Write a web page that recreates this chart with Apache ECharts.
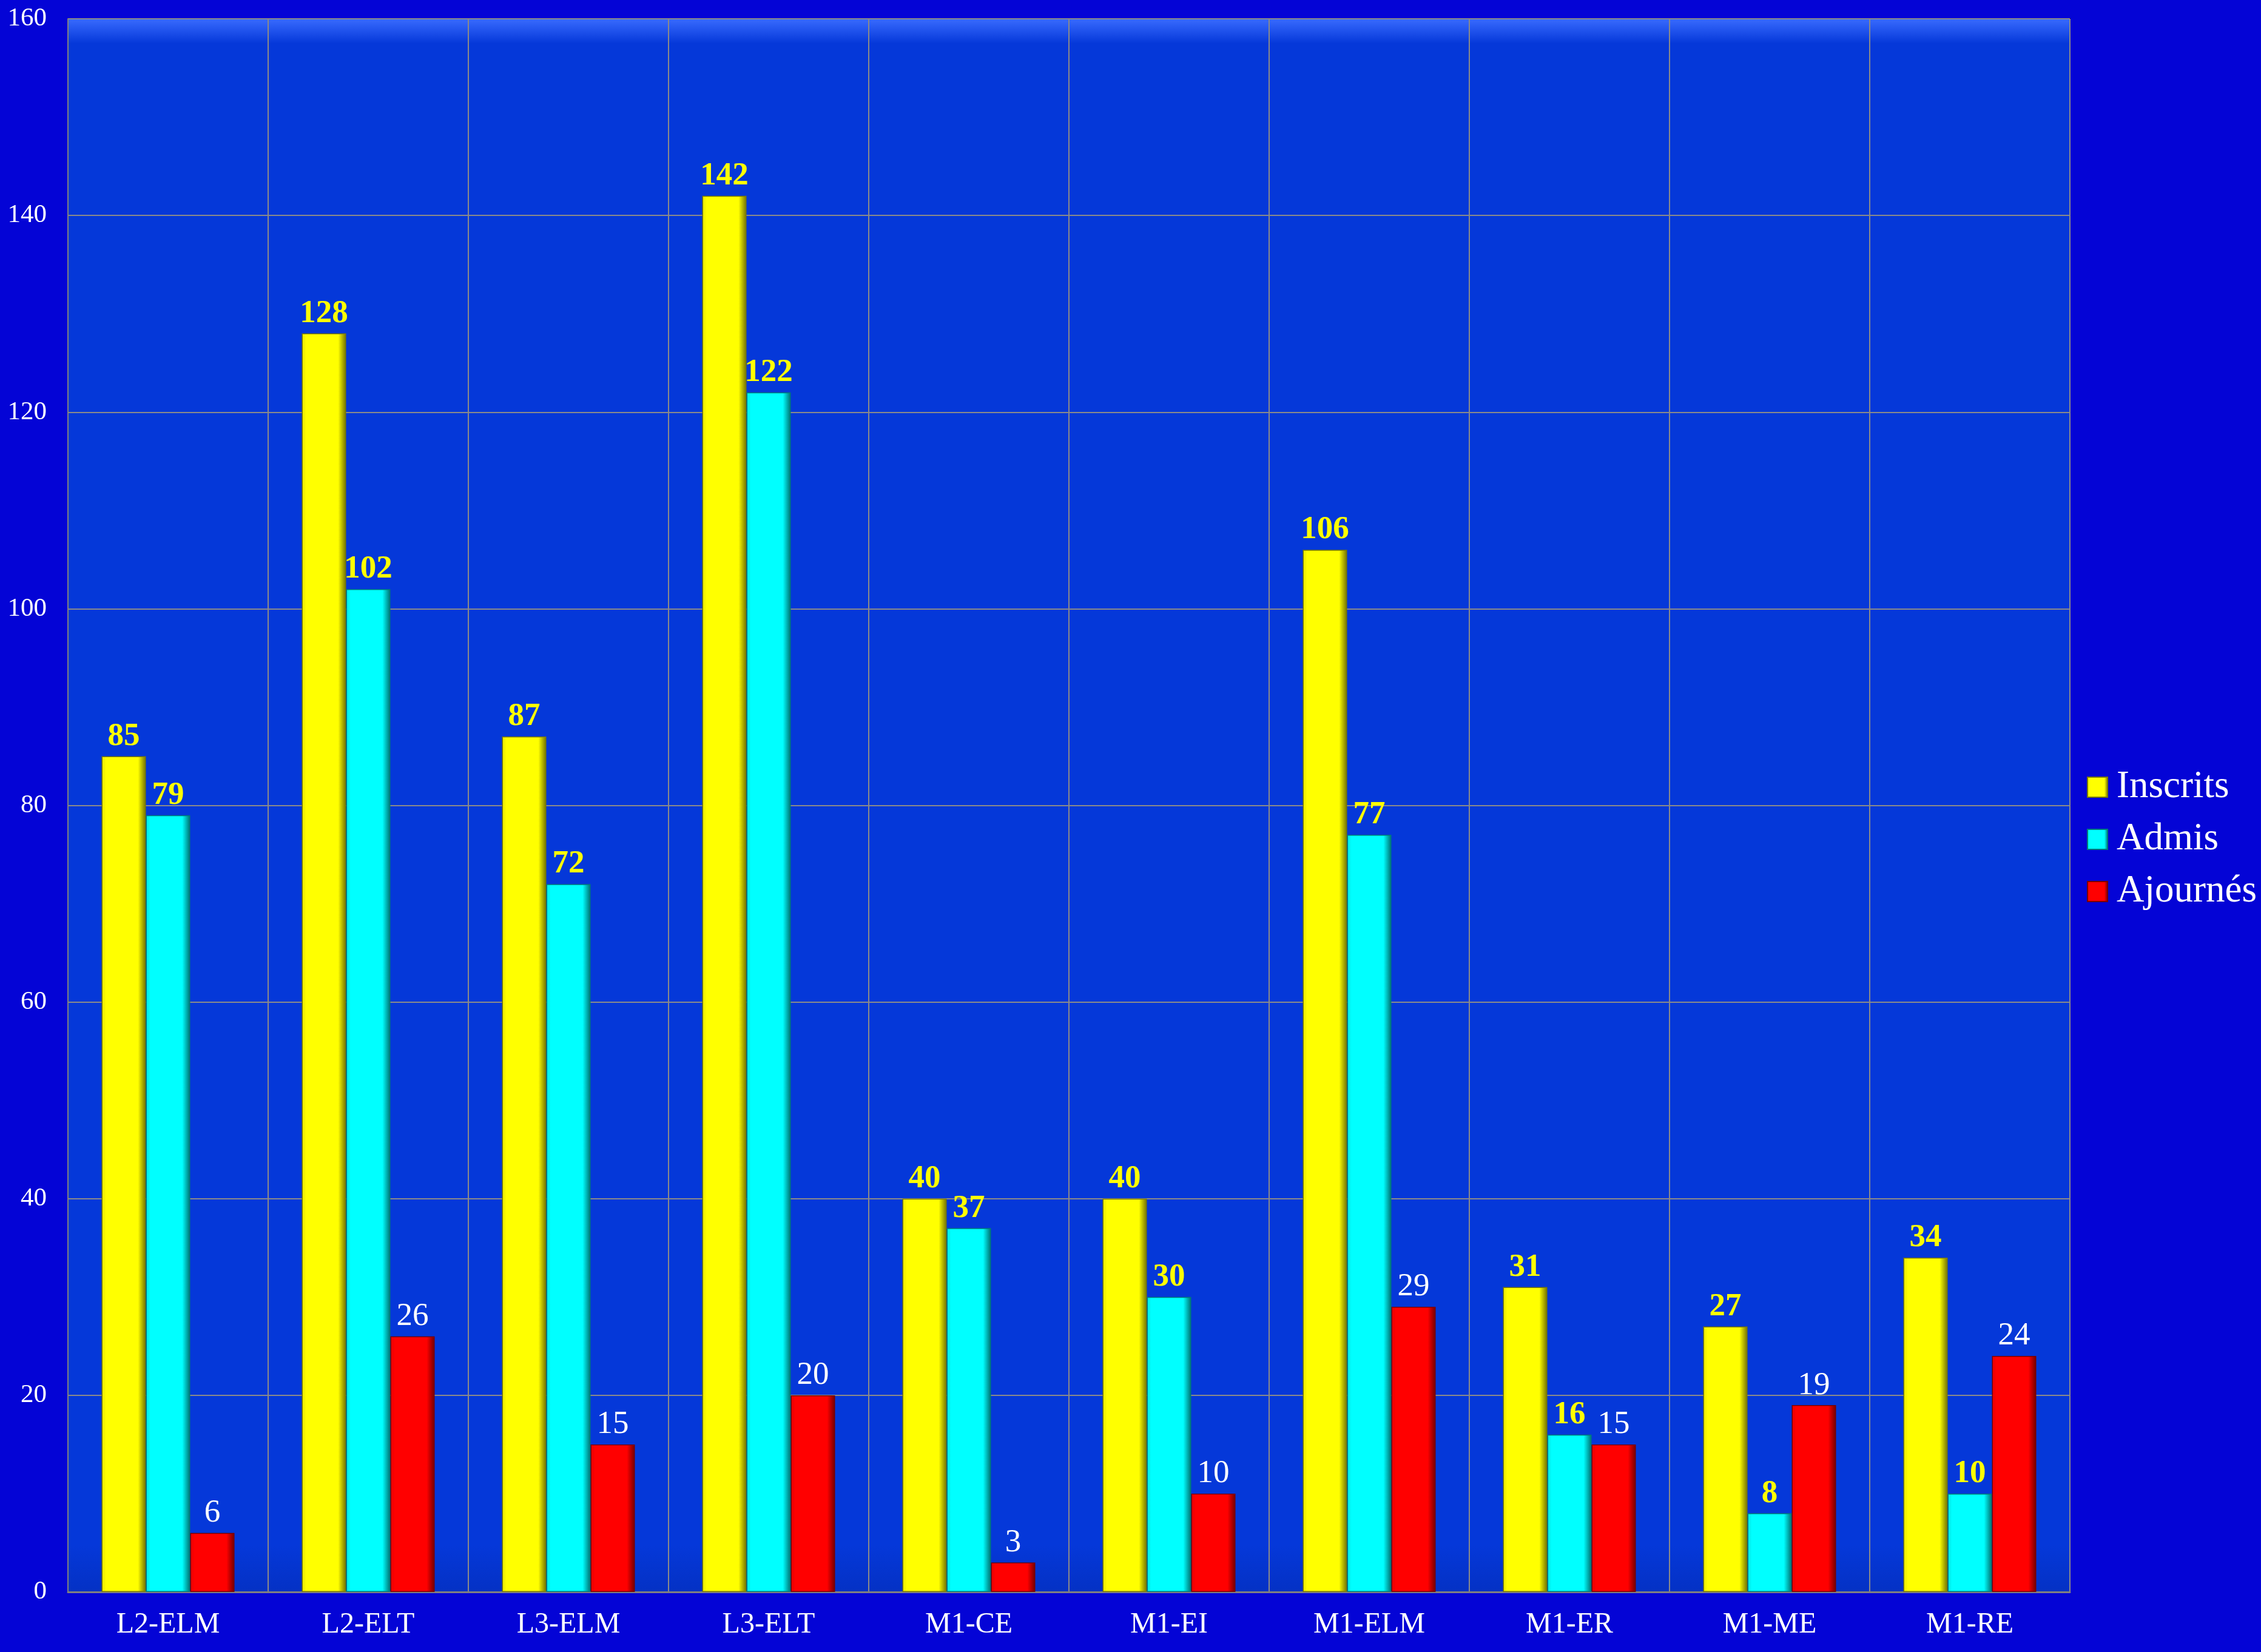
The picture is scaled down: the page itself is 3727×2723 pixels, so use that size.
<!DOCTYPE html>
<html>
<head>
<meta charset="utf-8">
<script src="https://cdn.jsdelivr.net/npm/echarts@6/dist/echarts.min.js"></script>
<style>
  html, body { margin: 0; padding: 0; background: #0404d6; }
  #main { width: 3727px; height: 2723px; }
</style>
</head>
<body>
<div id="main"></div>
<script>
const categories = ['L2-ELM', 'L2-ELT', 'L3-ELM', 'L3-ELT', 'M1-CE', 'M1-EI', 'M1-ELM', 'M1-ER', 'M1-ME', 'M1-RE'];
const inscrits = [85, 128, 87, 142, 40, 40, 106, 31, 27, 34];
const admis = [79, 102, 72, 122, 37, 30, 77, 16, 8, 10];
const ajournes = [6, 26, 15, 20, 3, 10, 29, 15, 19, 24];
const yTicks = [0, 20, 40, 60, 80, 100, 120, 140, 160];

const FONT = '"Liberation Serif", "Times New Roman", serif';

// bevelled bar look: light left edge, dark right edge
function barFill(edge, main, dark) {
  return new echarts.graphic.LinearGradient(0, 0, 1, 0, [
    { offset: 0, color: edge },
    { offset: 0.1, color: main },
    { offset: 0.82, color: main },
    { offset: 1, color: dark },
  ]);
}

function barSeries(name, data, fill, border, labelColor, bold) {
  return {
    name: name,
    type: 'bar',
    data: data,
    barWidth: 73,
    barGap: '0%',
    itemStyle: { color: fill, borderColor: border, borderWidth: 1.5 },
    label: {
      show: true,
      position: 'top',
      distance: 6,
      color: labelColor,
      fontFamily: FONT,
      fontSize: 53,
      fontWeight: bold ? 'bold' : 'normal',
    },
  };
}

let option = {
  backgroundColor: '#0404d6',
  animation: false,
  grid: {
    left: 112,
    right: 315,
    top: 31,
    bottom: 99,
    show: true,
    borderColor: '#000',
    borderWidth: 2,
    backgroundColor: new echarts.graphic.LinearGradient(0, 0, 0, 1, [
      { offset: 0, color: '#3a6cff' },
      { offset: 0.016, color: '#0538d9' },
      { offset: 0.97, color: '#0538d9' },
      { offset: 1, color: '#0431c4' },
    ]),
  },
  legend: {
    orient: 'vertical',
    left: 3435,
    top: 1261,
    icon: 'rect',
    itemWidth: 33,
    itemHeight: 33,
    itemGap: 23,
    textStyle: {
      color: '#fff',
      fontFamily: FONT,
      fontSize: 63,
      lineHeight: 63,
      padding: [0, 0, 0, 10],
    },
    data: ['Inscrits', 'Admis', 'Ajournés'],
  },
  xAxis: {
    type: 'category',
    data: categories,
    axisLine: { lineStyle: { color: '#808080', width: 3 } },
    axisTick: { show: false },
    axisLabel: { color: '#fff', fontFamily: FONT, fontSize: 48, margin: 30 },
    splitLine: { show: true, lineStyle: { color: '#8a8a8a', width: 2 } },
  },
  yAxis: {
    type: 'value',
    min: yTicks[0],
    max: yTicks[yTicks.length - 1],
    interval: 20,
    axisLine: { show: true, lineStyle: { color: '#808080', width: 2 } },
    axisTick: { show: false },
    axisLabel: { color: '#fff', fontFamily: FONT, fontSize: 43, margin: 35 },
    splitLine: { show: true, lineStyle: { color: '#8a8a8a', width: 2 } },
  },
  series: [
    barSeries('Inscrits', inscrits, barFill('#e6e600', '#ffff00', '#6e6e00'), '#7a7a00', '#ffff00', true),
    barSeries('Admis', admis, barFill('#00e6e6', '#00ffff', '#006e6e'), '#007a7a', '#ffff00', true),
    barSeries('Ajournés', ajournes, barFill('#e60000', '#ff0000', '#6e0000'), '#7a0000', '#ffffff', false),
  ],
};

let chartDom = document.getElementById('main');
let myChart = echarts.init(chartDom);
myChart.setOption(option);
window.onresize = function () {
  myChart.resize();
};
</script>
</body>
</html>
